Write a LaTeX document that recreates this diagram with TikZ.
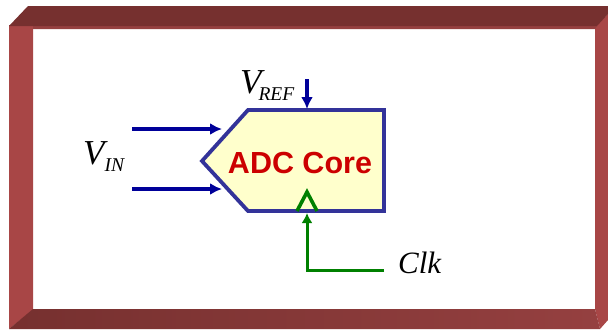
\documentclass[tikz,border=0pt]{standalone}
\usepackage{fontspec}
\setmainfont{Liberation Serif}
\newfontfamily\labelsans{Liberation Sans}
\usetikzlibrary{arrows.meta}
\definecolor{frametop}{HTML}{76302F}
\definecolor{frameleft}{HTML}{A84646}
\definecolor{framelip}{HTML}{954040}
\definecolor{coreline}{HTML}{333399}
\definecolor{corefill}{HTML}{FFFFCC}
\definecolor{sigblue}{HTML}{000099}
\definecolor{clkgreen}{HTML}{008000}
\definecolor{corered}{HTML}{CC0000}
\tikzset{
    sigline/.style={draw=sigblue, line width=3.6pt, -{Latex[length=12pt,width=12pt]}},
    clkline/.style={draw=clkgreen, line width=3pt, -{Latex[length=10pt,width=11pt]}},
    vlabel/.style={font=\itshape\fontsize{35}{35}\selectfont, inner sep=0pt, anchor=base west}
}
\newcommand{\subtext}[2]{\kern#1pt\raisebox{-7.5pt}{\fontsize{19.5}{19.5}\selectfont #2}}
\begin{document}
\begin{tikzpicture}[x=1pt, y=-1pt]
    \useasboundingbox (0,0) rectangle (608,330);
    % frame
    \fill[color=frameleft] (9,25) -- (33,25) -- (33,310) -- (9,329) -- cycle;
    \fill[color=frameleft] (595,26) -- (608,14) -- (608,320) -- (600,329) -- (595,309) -- cycle;
    \fill[color=framelip] (33,26) -- (597,26) -- (595,29) -- (33,29) -- cycle;
    \fill[color=frametop] (28,6) -- (608,6) -- (608,14) -- (597,26) -- (9,26) -- cycle;
    \shade[left color=frametop, right color=framelip] (33,309) -- (595,309) -- (600,329) -- (9,329) -- cycle;
    % core
    \coordinate (tip) at (202,161);
    \coordinate (topleft) at (248,110);
    \coordinate (topright) at (384,110);
    \coordinate (botright) at (384,211);
    \coordinate (botleft) at (248,211);
    \draw[color=coreline, fill=corefill, line width=3.8pt, line join=miter] (tip) -- (topleft) -- (topright) -- (botright) -- (botleft) -- cycle;
    \node (core) at (300,163) [color=corered, font=\labelsans\bfseries\fontsize{30.5}{30.5}\selectfont, inner sep=0pt] {ADC Core};
    % inputs
    \coordinate (inatop) at (132,129);
    \coordinate (inaend) at (222,129);
    \coordinate (inbtop) at (132,189);
    \coordinate (inbend) at (222,189);
    \coordinate (refstart) at (307,79);
    \coordinate (refend) at (307,109);
    \draw[sigline] (inatop) -- (inaend);
    \draw[sigline] (inbtop) -- (inbend);
    \draw[sigline] (refstart) -- (refend);
    % clock
    \coordinate (clkstart) at (384,270);
    \coordinate (clkend) at (307,213);
    \draw[clkline] (clkstart) -- (307,270) -- (clkend);
    \draw[color=clkgreen, line width=3.6pt] (297,211) -- (307,192) -- (317,211);
    % labels
    \node (vin) at (83,164) [vlabel] {V\subtext{0}{IN}};
    \node (vref) at (240,93) [vlabel] {V\subtext{-3}{REF}};
    \node (clk) at (398,273) [font=\itshape\fontsize{31}{31}\selectfont, inner sep=0pt, anchor=base west] {Clk};
\end{tikzpicture}
\end{document}
